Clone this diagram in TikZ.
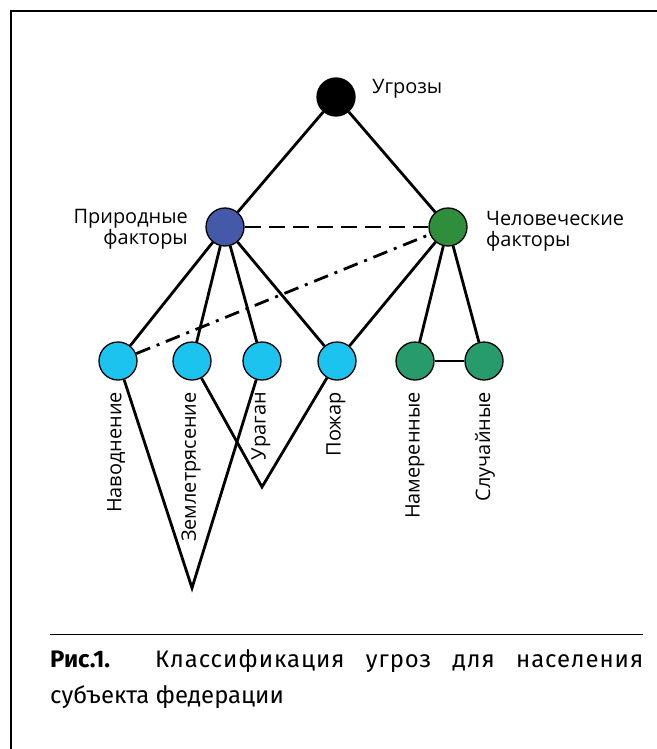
\documentclass[tikz,border=0pt]{standalone}
\usepackage{fontspec}
\setmainfont{Open Sans}
\newfontfamily\capfont{Fira Sans}
\definecolor{cBlue}{HTML}{4459A7}
\definecolor{cGreen}{HTML}{2E8E3B}
\definecolor{cCyan}{HTML}{1BC3EE}
\definecolor{cTeal}{HTML}{279B6B}
\begin{document}
\begin{tikzpicture}[x=1bp,y=-1bp,
  vert/.style={circle,draw=black,line width=1.3bp,minimum size=38bp,inner sep=0pt},
  edge/.style={line width=2.8bp},
  lbl/.style={font=\fontsize{20}{21}\selectfont,inner sep=0pt},
  vlbl/.style={lbl,rotate=90,anchor=east},
  captext/.style={font=\capfont\fontsize{24}{28}\selectfont,inner sep=0pt,anchor=base west}]
\useasboundingbox (0,0) rectangle (657,749);
\fill[white] (0,0) rectangle (657,749);
\draw[line width=1.8bp] (11,749) -- (11,11) -- (657,11);
% nodes
\node[vert,fill=black] (ug) at (336,97) {};
\node[vert,fill=cBlue] (pr) at (225,227) {};
\node[vert,fill=cGreen] (ch) at (448,227) {};
\node[vert,fill=cCyan] (nav) at (118,361) {};
\node[vert,fill=cCyan] (zem) at (192,361) {};
\node[vert,fill=cCyan] (ura) at (262,361) {};
\node[vert,fill=cCyan] (poz) at (337,361) {};
\node[vert,fill=cTeal] (nam) at (415,361) {};
\node[vert,fill=cTeal] (slu) at (484,361) {};
\coordinate (apA) at (192,588);
\coordinate (apB) at (262,487);
% labels
\node[lbl,anchor=base west] (tug) at (372,93) {Угрозы};
\node[lbl,anchor=east,align=right] (tpr) at (188,229) {Природные\\факторы};
\node[lbl,anchor=west,align=left] (tch) at (486,231) {Человеческие\\факторы};
\node[vlbl] (lnav) at (116,392) {Наводнение};
\node[vlbl] (lzem) at (191,392) {Землетрясение};
\node[vlbl] (lura) at (261,392) {Ураган};
\node[vlbl] (lpoz) at (336,392) {Пожар};
\node[vlbl] (lnam) at (415,392) {Намеренные};
\node[vlbl] (lslu) at (485,392) {Случайные};
% edges
\draw[edge] (ug) -- (pr);
\draw[edge] (ug) -- (ch);
\draw[edge,dash pattern=on 16bp off 8bp] (pr) -- (ch);
\draw[edge,dash pattern=on 15bp off 7bp on 3bp off 7bp] (nav) -- (ch);
\draw[edge] (pr) -- (nav);
\draw[edge] (pr) -- (zem);
\draw[edge] (pr) -- (ura);
\draw[edge] (pr) -- (poz);
\draw[edge] (ch) -- (poz);
\draw[edge] (ch) -- (nam);
\draw[edge] (ch) -- (slu);
\draw[edge] (nam) -- (slu);
\draw[edge] (nav) -- (apA) -- (ura);
\draw[edge] (zem) -- (apB) -- (poz);
% caption
\draw[line width=1bp] (50,634) -- (643,634);
\node[captext] (cap1) at (50,667) {\makebox[593bp][s]{\textbf{Рис.1.} {\addfontfeatures{LetterSpace=4}Классификация угроз для населения}}};
\node[captext] (cap2) at (50,703) {субъекта федерации};
\end{tikzpicture}
\end{document}
